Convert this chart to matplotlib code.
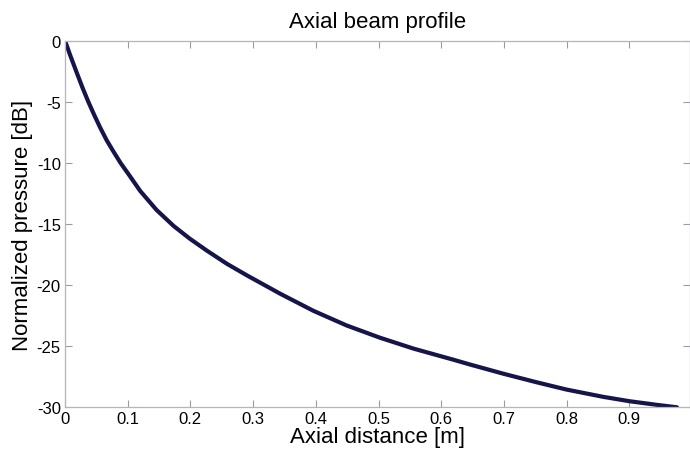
import matplotlib
matplotlib.use("Agg")
import matplotlib.pyplot as plt

plt.rcParams['font.family'] = ['Liberation Sans', 'DejaVu Sans']

# Axial distance [m] and normalized on-axis pressure [dB]
distance_m = [0.000, 0.008, 0.0186, 0.0282, 0.0372, 0.0468, 0.0558, 0.0665,
              0.077, 0.0888, 0.101, 0.120, 0.146, 0.173, 0.199, 0.226, 0.258,
              0.290, 0.343, 0.396, 0.449, 0.502, 0.556, 0.619, 0.646, 0.699,
              0.752, 0.800, 0.859, 0.900, 0.944, 0.976]
pressure_db = [0.0, -1.15, -2.6, -3.88, -5.0, -6.1, -7.08, -8.15,
               -9.05, -10.02, -10.9, -12.3, -13.85, -15.15, -16.2, -17.17, -18.25,
               -19.2, -20.7, -22.1, -23.3, -24.3, -25.2, -26.1, -26.5, -27.25,
               -27.95, -28.55, -29.15, -29.5, -29.8, -30.0]

x_ticks = [0, 0.1, 0.2, 0.3, 0.4, 0.5, 0.6, 0.7, 0.8, 0.9]
x_tick_labels = ['0', '0.1', '0.2', '0.3', '0.4', '0.5', '0.6', '0.7', '0.8', '0.9']
y_ticks = [0, -5, -10, -15, -20, -25, -30]
y_tick_labels = ['0', '-5', '-10', '-15', '-20', '-25', '-30']

fig = plt.figure(figsize=(6.9, 4.52), dpi=100)
ax = fig.add_axes([65 / 690, 1 - 408.3 / 452, (689.5 - 65) / 690, (408.3 - 41.7) / 452])

ax.plot(distance_m, pressure_db, color='#15154a', linewidth=3.0,
        solid_capstyle='round', solid_joinstyle='round')

ax.set_xlim(0, 0.996)
ax.set_ylim(-30, 0)
ax.set_xticks(x_ticks)
ax.set_xticklabels(x_tick_labels)
ax.set_yticks(y_ticks)
ax.set_yticklabels(y_tick_labels)

spine_color = '#b4b4c4'
for s in ax.spines.values():
    s.set_color(spine_color)
    s.set_linewidth(0.9)
ax.tick_params(direction='in', length=5, width=0.8, color='#9a9aaa',
               top=True, right=True, labelsize=12, pad=3, labelcolor='black')

ax.set_title('Axial beam profile', fontsize=16, pad=10)
ax.set_xlabel('Axial distance [m]', fontsize=16, labelpad=0)
ax.set_ylabel('Normalized pressure [dB]', fontsize=16, labelpad=3)

fig.savefig('out.png', dpi=100)
